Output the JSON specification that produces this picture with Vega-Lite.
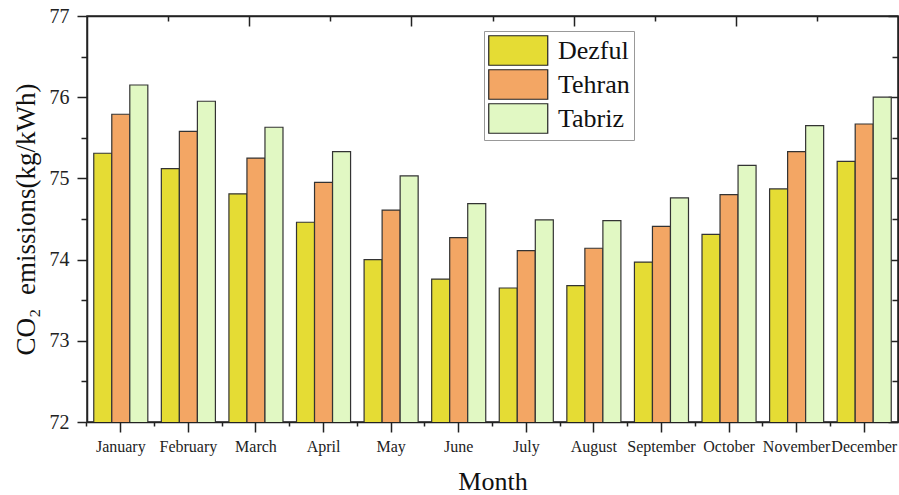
{
  "$schema": "https://vega.github.io/schema/vega-lite/v6.json",
  "autosize": {"type": "none"},
  "padding": {"left": 87, "top": 16, "right": 1, "bottom": 73},
  "width": 811,
  "height": 406,
  "background": "white",
  "config": {
    "view": {"stroke": "#222", "strokeWidth": 1.5},
    "font": "Liberation Serif",
    "axis": {"labelFont": "Liberation Serif", "titleFont": "Liberation Serif"},
    "legend": {"labelFont": "Liberation Serif"}
  },
  "data": {
    "values": [
      {"month": "January", "city": "Dezful", "value": 75.31},
      {"month": "January", "city": "Tehran", "value": 75.79},
      {"month": "January", "city": "Tabriz", "value": 76.15},
      {"month": "February", "city": "Dezful", "value": 75.12},
      {"month": "February", "city": "Tehran", "value": 75.58},
      {"month": "February", "city": "Tabriz", "value": 75.95},
      {"month": "March", "city": "Dezful", "value": 74.81},
      {"month": "March", "city": "Tehran", "value": 75.25},
      {"month": "March", "city": "Tabriz", "value": 75.63},
      {"month": "April", "city": "Dezful", "value": 74.46},
      {"month": "April", "city": "Tehran", "value": 74.95},
      {"month": "April", "city": "Tabriz", "value": 75.33},
      {"month": "May", "city": "Dezful", "value": 74.0},
      {"month": "May", "city": "Tehran", "value": 74.61},
      {"month": "May", "city": "Tabriz", "value": 75.03},
      {"month": "June", "city": "Dezful", "value": 73.76},
      {"month": "June", "city": "Tehran", "value": 74.27},
      {"month": "June", "city": "Tabriz", "value": 74.69},
      {"month": "July", "city": "Dezful", "value": 73.65},
      {"month": "July", "city": "Tehran", "value": 74.11},
      {"month": "July", "city": "Tabriz", "value": 74.49},
      {"month": "August", "city": "Dezful", "value": 73.68},
      {"month": "August", "city": "Tehran", "value": 74.14},
      {"month": "August", "city": "Tabriz", "value": 74.48},
      {"month": "September", "city": "Dezful", "value": 73.97},
      {"month": "September", "city": "Tehran", "value": 74.41},
      {"month": "September", "city": "Tabriz", "value": 74.76},
      {"month": "October", "city": "Dezful", "value": 74.31},
      {"month": "October", "city": "Tehran", "value": 74.8},
      {"month": "October", "city": "Tabriz", "value": 75.16},
      {"month": "November", "city": "Dezful", "value": 74.87},
      {"month": "November", "city": "Tehran", "value": 75.33},
      {"month": "November", "city": "Tabriz", "value": 75.65},
      {"month": "December", "city": "Dezful", "value": 75.21},
      {"month": "December", "city": "Tehran", "value": 75.67},
      {"month": "December", "city": "Tabriz", "value": 76.0}
    ]
  },
  "resolve": {"scale": {"x": "independent"}, "axis": {"y": "independent", "x": "independent"}},
  "layer": [
    {
      "mark": {"type": "bar", "stroke": "#333", "strokeWidth": 1.2, "clip": true},
      "encoding": {
        "x": {
          "field": "month", "type": "nominal", "sort": null,
          "scale": {"paddingInner": 0.2, "paddingOuter": 0.1},
          "axis": {
            "title": "Month", "titleFont": "Liberation Serif", "titleFontSize": 26, "titleFontWeight": "normal", "titleColor": "#111", "titlePadding": 14,
            "labelAngle": 0, "labelFont": "Liberation Serif", "labelFontSize": 16, "labelColor": "#222", "labelPadding": 6,
            "bandPosition": 0.5,
            "tickSize": 10, "tickColor": "#222", "tickWidth": 1.5, "domainColor": "#222", "domainWidth": 1.5, "grid": false
          }
        },
        "xOffset": {"field": "city", "type": "nominal", "sort": ["Dezful", "Tehran", "Tabriz"], "scale": {"paddingInner": 0, "paddingOuter": 0}},
        "y": {
          "field": "value", "type": "quantitative",
          "scale": {"domain": [72, 77], "zero": false, "nice": false},
          "axis": {
            "orient": "left",
            "title": "CO₂\u00a0\u00a0emissions(kg/kWh)", "titleFont": "Liberation Serif", "titleFontSize": 27, "titleFontWeight": "normal", "titleColor": "#111", "titlePadding": 9,
            "values": [72, 72.5, 73, 73.5, 74, 74.5, 75, 75.5, 76, 76.5, 77],
            "labelExpr": "datum.value % 1 === 0 ? format(datum.value, 'd') : ''",
            "labelFont": "Liberation Serif", "labelFontSize": 20, "labelColor": "#222", "labelPadding": 8,
            "tickSize": {"condition": {"test": "datum.value % 1 === 0", "value": 10}, "value": 6},
            "tickColor": "#222", "tickWidth": 1.5, "domainColor": "#222", "domainWidth": 1.5, "grid": false
          }
        },
        "color": {
          "field": "city", "type": "nominal",
          "sort": ["Dezful", "Tehran", "Tabriz"],
          "scale": {"domain": ["Dezful", "Tehran", "Tabriz"], "range": ["#E5DC34", "#F3A664", "#E1F8C3"]},
          "legend": {
            "title": null, "orient": "none", "legendX": 397, "legendY": 15,
            "direction": "vertical",
            "symbolType": "M-1,-1H3V1H-1Z", "symbolSize": 870,
            "symbolStrokeColor": "#222", "symbolStrokeWidth": 1.2, "symbolOpacity": 1,
            "labelFont": "Liberation Serif", "labelFontSize": 26, "labelColor": "#111", "labelOffset": 39,
            "rowPadding": -1, "padding": 4,
            "strokeColor": "#999", "fillColor": "white"
          }
        }
      }
    },
    {
      "mark": {"type": "bar", "opacity": 0},
      "encoding": {
        "x": {
          "field": "month", "type": "nominal", "sort": null,
          "scale": {"paddingInner": 0.2, "paddingOuter": 0.1},
          "axis": {
            "orient": "bottom", "title": null, "labels": false, "domain": false, "grid": false,
            "bandPosition": -0.125, "tickSize": 4, "tickColor": "#222", "tickWidth": 1.5
          }
        },
        "xOffset": {"field": "city", "type": "nominal", "sort": ["Dezful", "Tehran", "Tabriz"], "scale": {"paddingInner": 0, "paddingOuter": 0}},
        "y": {
          "field": "value", "type": "quantitative",
          "axis": {
            "orient": "right", "title": null, "labels": false,
            "values": [72, 72.5, 73, 73.5, 74, 74.5, 75, 75.5, 76, 76.5, 77],
            "tickSize": {"condition": {"test": "datum.value % 1 === 0", "value": -10}, "value": -6},
            "tickColor": "#222", "tickWidth": 1.5, "domainColor": "#222", "domainWidth": 1.5, "grid": false
          }
        }
      }
    },
    {
      "mark": {"type": "point", "opacity": 0, "clip": true},
      "encoding": {
        "x": {
          "field": "value", "type": "quantitative",
          "scale": {"domain": [0, 10], "nice": false, "zero": false},
          "axis": {
            "orient": "top", "title": null, "labels": false, "grid": false,
            "values": [1, 2, 3, 4, 5, 6, 7, 8, 9],
            "tickSize": {"condition": {"test": "datum.value % 2 === 0", "value": -10}, "value": -5},
            "tickColor": "#222", "tickWidth": 1.5, "domainColor": "#222", "domainWidth": 1.5
          }
        }
      }
    }
  ]
}
